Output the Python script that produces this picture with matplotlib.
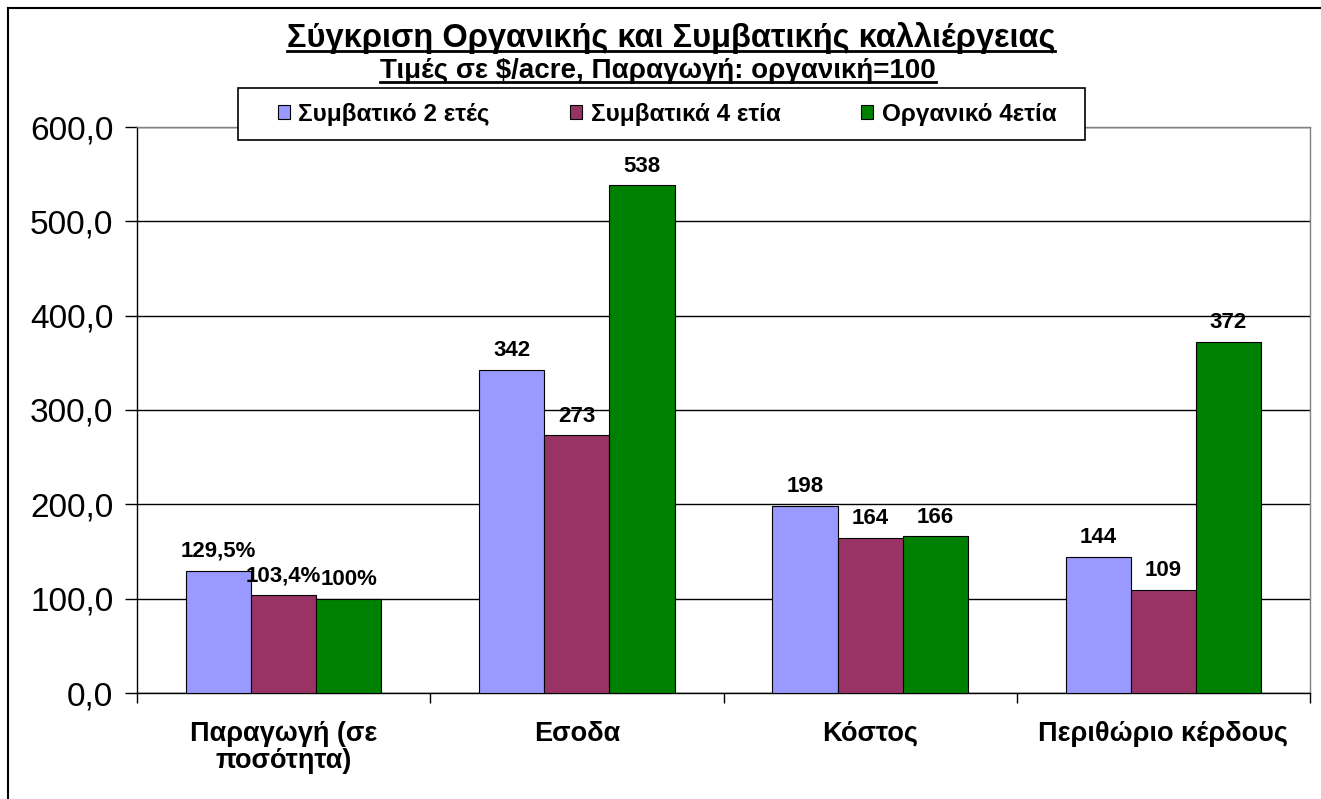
import matplotlib
matplotlib.use("Agg")
import matplotlib.pyplot as plt
from matplotlib.lines import Line2D
from matplotlib.patches import Rectangle
import numpy as np

categories = ["Παραγωγή (σε\nποσότητα)", "Εσοδα", "Κόστος", "Περιθώριο κέρδους"]
series_names = ["Συμβατικό 2 ετές", "Συμβατικά 4 ετία", "Οργανικό 4ετία"]
conv2 = [129.5, 342, 198, 144]
conv4 = [103.4, 273, 164, 109]
org4 = [100, 538, 166, 372]
label_conv2 = ["129,5%", "342", "198", "144"]
label_conv4 = ["103,4%", "273", "164", "109"]
label_org4 = ["100%", "538", "166", "372"]
colors = ["#9999FF", "#993366", "#008000"]
yticks = [0, 100, 200, 300, 400, 500, 600]

plt.rcParams['font.family'] = ['Liberation Sans', 'DejaVu Sans']

W, H = 1321, 799
fig = plt.figure(figsize=(W / 100, H / 100), dpi=100)
fig.patch.set_facecolor("white")

def fx(px):
    return px / W

def fy(py):
    return 1 - py / H

# figure border (left and top visible)
fig.add_artist(Line2D([fx(8), fx(8)], [fy(8), fy(H + 5)], color="black", lw=1.5))
fig.add_artist(Line2D([fx(8), fx(W + 5)], [fy(8), fy(8)], color="black", lw=1.5))

ax = fig.add_axes([fx(137), fy(693), fx(1310) - fx(137), fy(127) - fy(693)])
ax.set_facecolor("white")

x = np.arange(len(categories))
w = 1 / 4.5
all_vals = [conv2, conv4, org4]
all_labels = [label_conv2, label_conv4, label_org4]
bars = []
for i, (vals, labs) in enumerate(zip(all_vals, all_labels)):
    b = ax.bar(x + (i - 1) * w, vals, width=w, color=colors[i], edgecolor="black",
               linewidth=0.8, label=series_names[i], zorder=3)
    bars.append(b)
    for xi, v, lab in zip(x + (i - 1) * w, vals, labs):
        ax.annotate(lab, (xi, v), xytext=(0, 10), textcoords="offset points",
                    ha="center", va="baseline", fontsize=16, fontweight="bold", zorder=5)

ax.set_ylim(0, 600)
ax.set_xlim(-0.5, len(categories) - 0.5)
ax.set_yticks(yticks)
ax.set_yticklabels([f"{t:.1f}".replace(".", ",") for t in yticks], fontsize=24)
ax.yaxis.grid(True, color="black", lw=1, zorder=0)
ax.tick_params(axis="y", direction="out", length=9, width=1, pad=8)

ax.set_xticks(np.arange(-0.5, len(categories), 1.0))
ax.set_xticklabels([])
ax.tick_params(axis="x", which="major", direction="out", length=7, width=1)
ax.set_xticks(x, minor=True)
ax.set_xticklabels(categories, minor=True, fontsize=19.5, fontweight="bold", linespacing=1.05)
ax.tick_params(axis="x", which="minor", length=0, pad=20)

ax.spines["left"].set_color("black")
ax.spines["bottom"].set_color("black")
ax.spines["top"].set_color("#808080")
ax.spines["right"].set_color("#808080")
for s in ax.spines.values():
    s.set_linewidth(1)

# legend box and legend
x0, y0, x1, y1 = 238, 88, 1085, 140
box = Rectangle((fx(x0), fy(y1)), fx(x1) - fx(x0), fy(y0) - fy(y1), transform=fig.transFigure,
                facecolor="white", edgecolor="black", lw=1.2, zorder=9)
fig.add_artist(box)
leg = fig.legend(handles=bars, labels=series_names, ncol=3, loc="center",
                 bbox_to_anchor=(fx(667), fy(114)),
                 frameon=False, prop={"weight": "bold", "size": 17.5},
                 handlelength=0.5, handleheight=0.5, handletextpad=0.35,
                 borderaxespad=0, borderpad=0, columnspacing=3.3)
leg.set_zorder(10)

# titles with underline
t1 = fig.text(fx(671), fy(38), "Σύγκριση Οργανικής και Συμβατικής καλλιέργειας",
              ha="center", va="center", fontsize=23.5, fontweight="bold")
t2 = fig.text(fx(658), fy(71), "Τιμές σε $/acre, Παραγωγή: οργανική=100",
              ha="center", va="center", fontsize=20, fontweight="bold")
fig.canvas.draw()
r = fig.canvas.get_renderer()
for t, off in ((t1, 3), (t2, 2)):
    bb = t.get_window_extent(r)
    yb = bb.y0 + off
    fig.add_artist(Line2D([bb.x0 / W, bb.x1 / W], [yb / H, yb / H], color="black", lw=2))

fig.savefig("out.png", dpi=100)
